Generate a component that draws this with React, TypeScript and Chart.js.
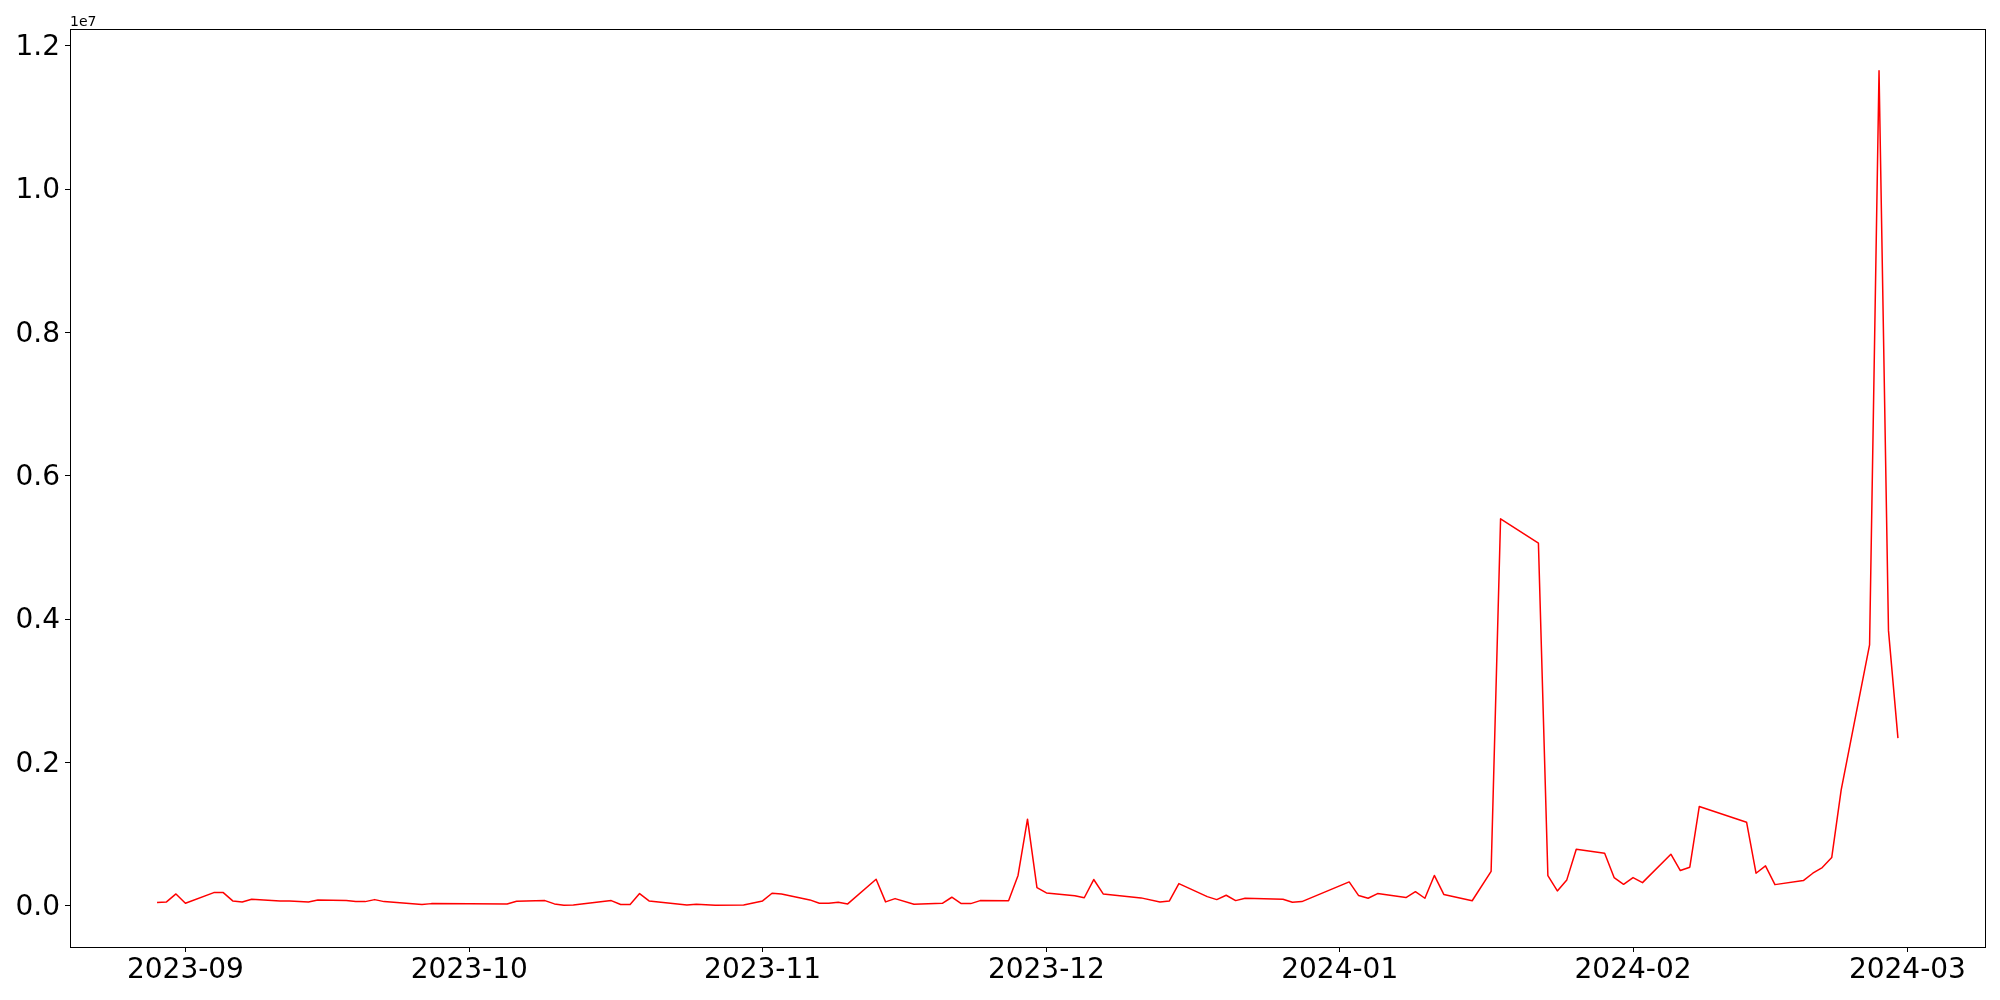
import React, { useEffect, useRef } from "react";
import { Chart, registerables } from "chart.js";

Chart.register(...registerables);

const dates: string[] = [
  "2023-08-29", "2023-08-30", "2023-08-31", "2023-09-01", "2023-09-04", "2023-09-05",
  "2023-09-06", "2023-09-07", "2023-09-08", "2023-09-11", "2023-09-12", "2023-09-14",
  "2023-09-15", "2023-09-18", "2023-09-19", "2023-09-20", "2023-09-21", "2023-09-22",
  "2023-09-26", "2023-09-27", "2023-10-05", "2023-10-06", "2023-10-09", "2023-10-10",
  "2023-10-11", "2023-10-12", "2023-10-16", "2023-10-17", "2023-10-18", "2023-10-19",
  "2023-10-20", "2023-10-24", "2023-10-25", "2023-10-27", "2023-10-30", "2023-11-01",
  "2023-11-02", "2023-11-03", "2023-11-06", "2023-11-07", "2023-11-08", "2023-11-09",
  "2023-11-10", "2023-11-13", "2023-11-14", "2023-11-15", "2023-11-17", "2023-11-20",
  "2023-11-21", "2023-11-22", "2023-11-23", "2023-11-24", "2023-11-27", "2023-11-28",
  "2023-11-29", "2023-11-30", "2023-12-01", "2023-12-04", "2023-12-05", "2023-12-06",
  "2023-12-07", "2023-12-11", "2023-12-13", "2023-12-14", "2023-12-15", "2023-12-18",
  "2023-12-19", "2023-12-20", "2023-12-21", "2023-12-22", "2023-12-26", "2023-12-27",
  "2023-12-28", "2024-01-02", "2024-01-03", "2024-01-04", "2024-01-05", "2024-01-08",
  "2024-01-09", "2024-01-10", "2024-01-11", "2024-01-12", "2024-01-15", "2024-01-17",
  "2024-01-18", "2024-01-22", "2024-01-23", "2024-01-24", "2024-01-25", "2024-01-26",
  "2024-01-29", "2024-01-30", "2024-01-31", "2024-02-01", "2024-02-02", "2024-02-05",
  "2024-02-06", "2024-02-07", "2024-02-08", "2024-02-13", "2024-02-14", "2024-02-15",
  "2024-02-16", "2024-02-19", "2024-02-20", "2024-02-21", "2024-02-22", "2024-02-23",
  "2024-02-26", "2024-02-27", "2024-02-28", "2024-02-29",
];

const volumes: number[] = [
  46000, 56000, 167000, 37000, 186000, 186000,
  70000, 56000, 93000, 70000, 70000, 56000,
  84000, 74000, 60000, 60000, 88000, 60000,
  19000, 32000, 28000, 65000, 74000, 28000,
  9000, 14000, 74000, 19000, 19000, 172000,
  70000, 14000, 23000, 9000, 14000, 70000,
  177000, 167000, 84000, 37000, 37000, 51000,
  28000, 372000, 56000, 102000, 23000, 37000,
  121000, 32000, 32000, 74000, 72000, 425000,
  1210000, 254000, 181000, 142000, 114000, 368000,
  167000, 112000, 56000, 70000, 311000, 130000,
  88000, 149000, 74000, 107000, 93000, 51000,
  60000, 335000, 144000, 107000, 172000, 116000,
  198000, 107000, 425000, 160000, 72000, 483000,
  5400000, 5060000, 423000, 209000, 363000, 791000,
  735000, 395000, 302000, 395000, 325000, 721000,
  493000, 540000, 1386000, 1168000, 456000, 558000,
  297000, 353000, 456000, 535000, 674000, 1620000,
  3640000, 11650000, 3840000, 2340000,
];

const monthTicks: string[] = [
  "2023-09-01", "2023-10-01", "2023-11-01", "2023-12-01",
  "2024-01-01", "2024-02-01", "2024-03-01",
];

const yTicks: number[] = [0, 2000000, 4000000, 6000000, 8000000, 10000000, 12000000];

const DAY = 86400000;
const toDay = (s: string) =>
  Date.UTC(+s.slice(0, 4), +s.slice(5, 7) - 1, +s.slice(8, 10)) / DAY;
const fmtMonth = (v: number) => {
  const d = new Date(Math.round(v) * DAY);
  const m = d.getUTCMonth() + 1;
  return `${d.getUTCFullYear()}-${m < 10 ? "0" : ""}${m}`;
};

const FONT = "'DejaVu Sans', sans-serif";

export default function App() {
  const ref = useRef<HTMLCanvasElement | null>(null);

  useEffect(() => {
    if (!ref.current) return;
    const xs = dates.map(toDay);
    const points = xs.map((x, i) => ({ x, y: volumes[i] }));
    const xMin = Math.min(...xs);
    const xMax = Math.max(...xs);
    const xPad = 0.05 * (xMax - xMin);
    const yMinD = Math.min(...volumes);
    const yMaxD = Math.max(...volumes);
    const yPad = 0.05 * (yMaxD - yMinD);
    const tickDays = monthTicks.map(toDay);

    const frame = {
      id: "frame",
      afterDraw(chart: any) {
        const { ctx, chartArea: a } = chart;
        ctx.save();
        ctx.strokeStyle = "#000";
        ctx.lineWidth = 1;
        const l = Math.round(a.left) + 0.5;
        const t = Math.round(a.top) + 0.5;
        const r = Math.round(a.right) + 0.5;
        const b = Math.round(a.bottom) + 0.5;
        ctx.strokeRect(l, t, r - l, b - t);
        ctx.fillStyle = "#000";
        ctx.font = `14px ${FONT}`;
        ctx.textAlign = "left";
        ctx.textBaseline = "alphabetic";
        ctx.fillText("1e7", a.left, a.top - 3);
        ctx.restore();
      },
    };

    const chart = new Chart(ref.current, {
      type: "line",
      data: {
        datasets: [
          {
            data: points,
            borderColor: "#ff0000",
            borderWidth: 1.5,
            borderJoinStyle: "round",
            borderCapStyle: "butt",
            pointRadius: 0,
            fill: false,
            tension: 0,
          },
        ],
      },
      options: {
        animation: false,
        responsive: false,
        devicePixelRatio: 1,
        layout: { padding: { top: 29, right: 15, left: 0, bottom: 0 } },
        plugins: { legend: { display: false }, tooltip: { enabled: false } },
        scales: {
          x: {
            type: "linear",
            min: xMin - xPad,
            max: xMax + xPad,
            afterBuildTicks: (axis: any) => {
              axis.ticks = tickDays.map((v) => ({ value: v }));
            },
            afterFit: (s: any) => {
              s.height = 53;
            },
            ticks: {
              callback: (v: any) => fmtMonth(Number(v)),
              font: { family: FONT, size: 28 },
              color: "#000",
              padding: 2,
              maxRotation: 0,
              autoSkip: false,
            },
            grid: {
              drawOnChartArea: false,
              drawTicks: true,
              tickLength: 5,
              color: "#000",
              lineWidth: 1,
            },
            border: { display: true, color: "#000", width: 1 },
          },
          y: {
            type: "linear",
            min: yMinD - yPad,
            max: yMaxD + yPad,
            afterBuildTicks: (axis: any) => {
              axis.ticks = yTicks.map((v) => ({ value: v }));
            },
            afterFit: (s: any) => {
              s.width = 70;
            },
            ticks: {
              callback: (v: any) => (Number(v) / 1e7).toFixed(1),
              font: { family: FONT, size: 28 },
              color: "#000",
              padding: 5,
              labelOffset: 2,
              autoSkip: false,
            },
            grid: {
              drawOnChartArea: false,
              drawTicks: true,
              tickLength: 5,
              color: "#000",
              lineWidth: 1,
            },
            border: { display: true, color: "#000", width: 1 },
          },
        },
      },
      plugins: [frame],
    } as any);

    return () => chart.destroy();
  }, []);

  return (
    <div
      style={{
        position: "fixed",
        left: 0,
        top: 0,
        width: 2000,
        height: 1000,
        background: "#fff",
      }}
    >
      <canvas ref={ref} width={2000} height={1000} style={{ display: "block" }} />
    </div>
  );
}
